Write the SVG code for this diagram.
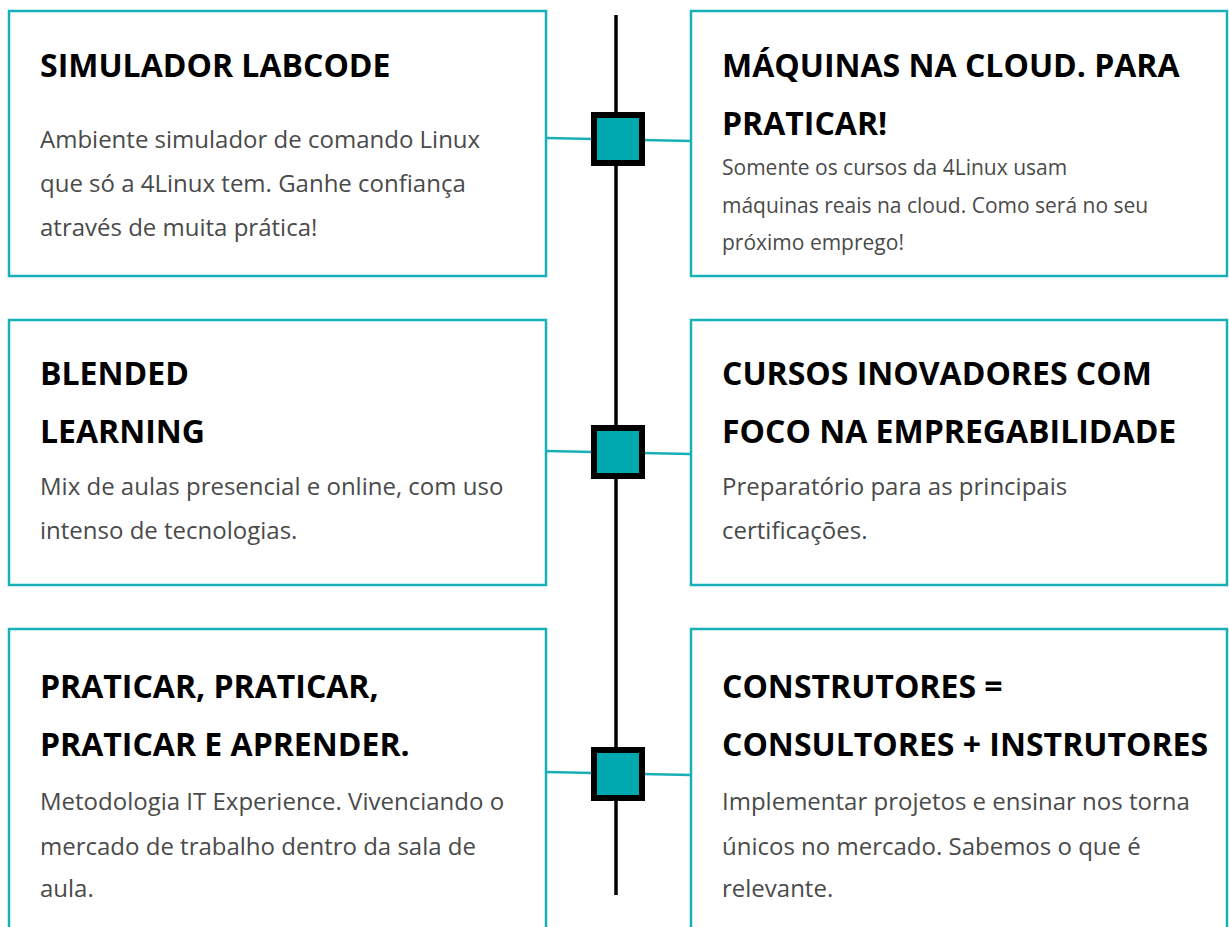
<svg xmlns="http://www.w3.org/2000/svg" width="1229" height="927" viewBox="0 0 1229 927">
<style>
.box{fill:#fff;stroke:#17b0b7;stroke-width:2.5}
.t{font-family:"Open Sans","Liberation Sans",sans-serif;font-weight:700;font-size:32px;fill:#000}
.b{font-family:"Open Sans","Liberation Sans",sans-serif;font-size:24px;fill:#4a4a4a}
.bs{font-family:"Open Sans","Liberation Sans",sans-serif;font-size:21px;fill:#4a4a4a}
.conn{stroke:#17b0b7;stroke-width:2.5;fill:none}
.sq{fill:#00a8b0;stroke:#000;stroke-width:6}
</style>
<rect width="1229" height="927" fill="#fff"/>
<g id="connectors">
<line x1="616" y1="15" x2="616" y2="895" stroke="#000" stroke-width="3.5"/>
<line class="conn" x1="546" y1="138" x2="594" y2="139"/>
<line class="conn" x1="642" y1="140" x2="691" y2="141"/>
<line class="conn" x1="546" y1="451" x2="594" y2="452"/>
<line class="conn" x1="642" y1="453" x2="691" y2="454"/>
<line class="conn" x1="546" y1="772" x2="594" y2="773"/>
<line class="conn" x1="642" y1="774" x2="691" y2="775"/>
</g>
<g id="marker1"><rect class="sq" x="594" y="115" width="48" height="48"/></g>
<g id="marker2"><rect class="sq" x="594" y="428" width="48" height="48"/></g>
<g id="marker3"><rect class="sq" x="594" y="750" width="48" height="48"/></g>
<g id="node-simulador">
<rect class="box" x="9" y="11" width="537" height="265"/>
<text class="t" x="40" y="77">SIMULADOR LABCODE</text>
<text class="b" x="40" y="148">Ambiente simulador de comando Linux</text>
<text class="b" x="40" y="192">que só a 4Linux tem. Ganhe confiança</text>
<text class="b" x="40" y="236">através de muita prática!</text>
</g>
<g id="node-maquinas">
<rect class="box" x="691" y="11" width="536" height="265"/>
<text class="t" x="722" y="77">MÁQUINAS NA CLOUD. PARA</text>
<text class="t" x="722" y="135">PRATICAR!</text>
<text class="bs" x="722" y="175">Somente os cursos da 4Linux usam</text>
<text class="bs" x="722" y="213">máquinas reais na cloud. Como será no seu</text>
<text class="bs" x="722" y="250">próximo emprego!</text>
</g>
<g id="node-blended">
<rect class="box" x="9" y="320" width="537" height="265"/>
<text class="t" x="40" y="385">BLENDED</text>
<text class="t" x="40" y="443">LEARNING</text>
<text class="b" x="40" y="495">Mix de aulas presencial e online, com uso</text>
<text class="b" x="40" y="539">intenso de tecnologias.</text>
</g>
<g id="node-cursos">
<rect class="box" x="691" y="320" width="536" height="265"/>
<text class="t" x="722" y="385">CURSOS INOVADORES COM</text>
<text class="t" x="722" y="443">FOCO NA EMPREGABILIDADE</text>
<text class="b" x="722" y="495">Preparatório para as principais</text>
<text class="b" x="722" y="539">certificações.</text>
</g>
<g id="node-praticar">
<rect class="box" x="9" y="629" width="537" height="320"/>
<text class="t" x="40" y="698">PRATICAR, PRATICAR,</text>
<text class="t" x="40" y="756">PRATICAR E APRENDER.</text>
<text class="b" x="40" y="810">Metodologia IT Experience. Vivenciando o</text>
<text class="b" x="40" y="855">mercado de trabalho dentro da sala de</text>
<text class="b" x="40" y="897">aula.</text>
</g>
<g id="node-construtores">
<rect class="box" x="691" y="629" width="536" height="320"/>
<text class="t" x="722" y="698">CONSTRUTORES =</text>
<text class="t" x="722" y="756">CONSULTORES + INSTRUTORES</text>
<text class="b" x="722" y="810">Implementar projetos e ensinar nos torna</text>
<text class="b" x="722" y="855">únicos no mercado. Sabemos o que é</text>
<text class="b" x="722" y="897">relevante.</text>
</g>
</svg>
